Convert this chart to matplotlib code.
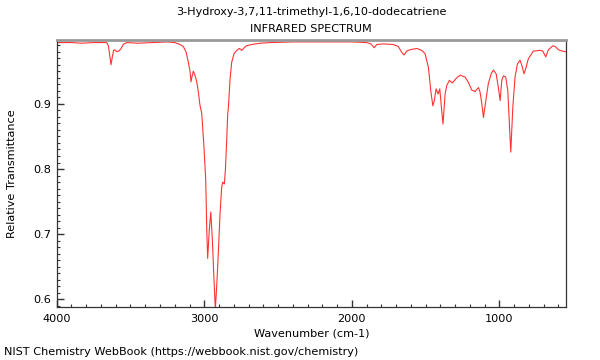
import matplotlib
matplotlib.use("Agg")
import matplotlib.pyplot as plt
from matplotlib.ticker import MultipleLocator

title_line1 = "3-Hydroxy-3,7,11-trimethyl-1,6,10-dodecatriene"
title_line2 = "INFRARED SPECTRUM"
x_label = "Wavenumber (cm-1)"
y_label = "Relative Transmittance"
footer = "NIST Chemistry WebBook (https://webbook.nist.gov/chemistry)"

wavenumber = [
    4000, 3900, 3830, 3750, 3700, 3661, 3650, 3639, 3632, 3623, 3614, 3607,
    3593, 3580, 3566, 3549, 3526, 3450, 3350, 3250, 3200, 3164, 3142, 3124,
    3108, 3096, 3090, 3081, 3074, 3063, 3051, 3040, 3029, 3017, 3002, 2990,
    2983, 2977, 2966, 2956, 2945, 2936, 2925, 2916, 2905, 2893, 2882, 2875,
    2864, 2857, 2848, 2841, 2837, 2825, 2814, 2798, 2780, 2762, 2745, 2730,
    2715, 2680, 2620, 2550, 2400, 2200, 2000, 1900, 1870, 1849, 1831, 1786,
    1719, 1685, 1662, 1646, 1628, 1605, 1560, 1526, 1504, 1481, 1465, 1451,
    1441, 1429, 1415, 1404, 1393, 1382, 1368, 1357, 1339, 1319, 1289, 1266,
    1232, 1210, 1187, 1165, 1142, 1131, 1119, 1108, 1092, 1075, 1056, 1041,
    1022, 1007, 995, 984, 973, 957, 943, 932, 923, 909, 894, 878, 860, 848,
    833, 819, 804, 770, 724, 706, 686, 668, 638, 622, 600, 577, 550,
]
transmittance = [
    0.994, 0.994, 0.993, 0.994, 0.994, 0.994, 0.989, 0.972, 0.960, 0.972, 0.982, 0.983,
    0.980, 0.981, 0.984, 0.991, 0.994, 0.993, 0.994, 0.995, 0.994, 0.991, 0.988, 0.980,
    0.964, 0.949, 0.934, 0.944, 0.950, 0.944, 0.934, 0.918, 0.898, 0.885, 0.834, 0.783,
    0.706, 0.663, 0.706, 0.734, 0.691, 0.640, 0.585, 0.619, 0.670, 0.732, 0.772, 0.780,
    0.777, 0.798, 0.844, 0.885, 0.893, 0.939, 0.964, 0.977, 0.982, 0.985, 0.982, 0.986,
    0.989, 0.991, 0.993, 0.994, 0.995, 0.995, 0.995, 0.994, 0.992, 0.986, 0.991, 0.992,
    0.991, 0.988, 0.979, 0.975, 0.981, 0.983, 0.985, 0.982, 0.977, 0.956, 0.920, 0.897,
    0.905, 0.923, 0.915, 0.923, 0.895, 0.869, 0.915, 0.928, 0.936, 0.932, 0.940, 0.944,
    0.941, 0.933, 0.921, 0.919, 0.925, 0.918, 0.900, 0.879, 0.905, 0.931, 0.946, 0.952,
    0.946, 0.925, 0.905, 0.936, 0.943, 0.941, 0.920, 0.869, 0.826, 0.895, 0.941, 0.961, 0.967, 0.959,
    0.946, 0.956, 0.969, 0.981, 0.982, 0.981, 0.972, 0.983, 0.989, 0.988, 0.983, 0.981, 0.980,
]

x_limits = (4000, 550)
y_limits = (0.588, 0.998)
x_major = [4000, 3000, 2000, 1000]
y_major = [0.6, 0.7, 0.8, 0.9]

fs = 8.15
fig = plt.figure(figsize=(6, 3.6), dpi=100)
ax = fig.add_axes([0.0945, 0.1465, 0.8485, 0.7425])
ax.plot(wavenumber, transmittance, color="#ff3333", linewidth=0.8)

ax.set_xlim(*x_limits)
ax.set_ylim(*y_limits)
ax.set_xticks(x_major)
ax.set_xticklabels([str(v) for v in x_major])
ax.set_yticks(y_major)
ax.set_yticklabels([f"{v:.1f}" for v in y_major])
ax.xaxis.set_minor_locator(MultipleLocator(100))
ax.yaxis.set_minor_locator(MultipleLocator(0.01))
ax.tick_params(axis="both", which="major", direction="in", length=5, width=1,
               labelsize=fs, top=False, right=False, color="#333333")
ax.tick_params(axis="both", which="minor", direction="in", length=2.5, width=0.8,
               top=False, right=False, color="#333333")
ax.tick_params(axis="x", which="major", pad=5)
ax.tick_params(axis="y", which="major", pad=4)

ax.spines["top"].set_color("#999999")
ax.spines["top"].set_linewidth(2)
for s in ("left", "bottom", "right"):
    ax.spines[s].set_color("#333333")
    ax.spines[s].set_linewidth(0.9)

ax.set_xlabel(x_label, fontsize=fs, labelpad=3)
ax.set_ylabel(y_label, fontsize=fs, labelpad=12)

fig.text(0.5183, 0.966, title_line1, ha="center", va="center", fontsize=fs)
fig.text(0.5183, 0.919, title_line2, ha="center", va="center", fontsize=fs)
fig.text(0.007, 0.022, footer, ha="left", va="center", fontsize=fs)

fig.savefig("out.png", dpi=100)
